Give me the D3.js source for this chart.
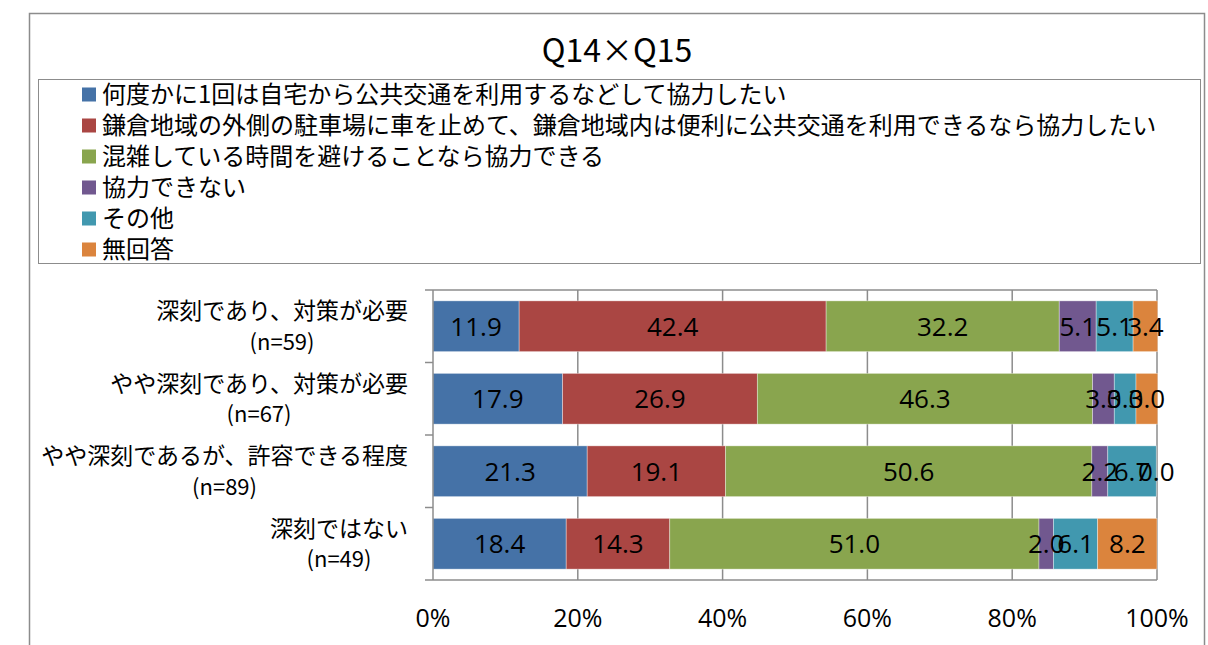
<!DOCTYPE html>
<html>
<head>
<meta charset="utf-8">
<script src="https://cdn.jsdelivr.net/npm/d3@7"></script>
<style>
  body { margin: 0; background: #fff; }
  text { fill: #000; }
</style>
</head>
<body>
<div id="chart"></div>
<script>
// data
var categories = ["深刻であり、対策が必要", "やや深刻であり、対策が必要", "やや深刻であるが、許容できる程度", "深刻ではない"];
var sampleSizes = ["(n=59)", "(n=67)", "(n=89)", "(n=49)"];
var seriesNames = [
  "何度かに1回は自宅から公共交通を利用するなどして協力したい",
  "鎌倉地域の外側の駐車場に車を止めて、鎌倉地域内は便利に公共交通を利用できるなら協力したい",
  "混雑している時間を避けることなら協力できる",
  "協力できない",
  "その他",
  "無回答"
];
var seriesValues = [
  [11.9, 17.9, 21.3, 18.4],
  [42.4, 26.9, 19.1, 14.3],
  [32.2, 46.3, 50.6, 51.0],
  [5.1, 3.0, 2.2, 2.0],
  [5.1, 3.0, 6.7, 6.1],
  [3.4, 3.0, 0.0, 8.2]
];
var tickValues = [0, 20, 40, 60, 80, 100];
var colors = ["#4572A7", "#AA4643", "#89A54E", "#71588F", "#4198AF", "#DB843D"];

var svgWidth = 1208;
var svgHeight = 645;
var jpFont = "'Noto Sans CJK JP', 'Noto Sans', sans-serif";
var numFont = "'Open Sans', 'Liberation Sans', sans-serif";

var plot = { left: 433, right: 1157, top: 290, bottom: 580 };

var svg = d3.select("#chart")
  .append("svg")
  .attr("width", svgWidth)
  .attr("height", svgHeight);

// outer chart border
svg.append("rect")
  .attr("x", 29.5).attr("y", 13.5)
  .attr("width", 1175).attr("height", 700)
  .attr("fill", "#fff")
  .attr("stroke", "#8c8c8c")
  .attr("stroke-width", 1.5);

// title
svg.append("text")
  .attr("x", 617).attr("y", 51)
  .attr("dy", "0.35em")
  .attr("text-anchor", "middle")
  .style("font-family", jpFont)
  .style("font-size", "32px")
  .text("Q14×Q15");

// legend
var legend = svg.append("g");
legend.append("rect")
  .attr("x", 38.5).attr("y", 79.5)
  .attr("width", 1162).attr("height", 184)
  .attr("fill", "#fff")
  .attr("stroke", "#8c8c8c")
  .attr("stroke-width", 1);

var legendItems = legend.selectAll("g.item")
  .data(seriesNames)
  .enter()
  .append("g")
  .attr("class", "item")
  .attr("transform", (d, i) => `translate(82, ${94.5 + i * 31})`);

legendItems.append("rect")
  .attr("x", 0).attr("y", -7)
  .attr("width", 14).attr("height", 14)
  .attr("fill", (d, i) => colors[i]);

legendItems.append("text")
  .attr("x", 20)
  .attr("dy", "0.35em")
  .style("font-family", jpFont)
  .style("font-size", "24px")
  .text(d => d);

// scales
var x = d3.scaleLinear()
  .domain([0, 100])
  .range([plot.left, plot.right]);

var y = d3.scaleBand()
  .domain(categories)
  .range([plot.top, plot.bottom])
  .paddingInner(0.3)
  .paddingOuter(0.15);

// gridlines
svg.append("g")
  .selectAll("line")
  .data(tickValues.slice(1))
  .enter()
  .append("line")
  .attr("x1", d => x(d)).attr("x2", d => x(d))
  .attr("y1", plot.top).attr("y2", plot.bottom)
  .attr("stroke", "#8c8c8c")
  .attr("stroke-width", 1.5);

// top border of plot area
svg.append("line")
  .attr("x1", plot.left).attr("x2", plot.right)
  .attr("y1", plot.top).attr("y2", plot.top)
  .attr("stroke", "#8c8c8c")
  .attr("stroke-width", 1.5);

// stacked bars
var stackData = categories.map(function(c, ci) {
  var row = { cat: c };
  seriesNames.forEach(function(s, si) { row[si] = seriesValues[si][ci]; });
  return row;
});
var stacked = d3.stack().keys(d3.range(seriesNames.length))(stackData);

var layers = svg.append("g")
  .selectAll("g")
  .data(stacked)
  .enter()
  .append("g")
  .attr("fill", (d, i) => colors[i]);

layers.selectAll("rect")
  .data(d => d)
  .enter()
  .append("rect")
  .attr("x", d => x(d[0]))
  .attr("y", d => y(d.data.cat))
  .attr("width", d => x(d[1]) - x(d[0]))
  .attr("height", y.bandwidth())
  .attr("stroke", "rgba(255,255,255,0.45)")
  .attr("stroke-width", 0.8);

// value labels
var labelGroups = svg.append("g")
  .selectAll("g")
  .data(stacked)
  .enter()
  .append("g");

labelGroups.selectAll("text")
  .data(d => d.map(v => ({ v: v, key: d.key })))
  .enter()
  .append("text")
  .attr("x", d => (x(d.v[0]) + x(d.v[1])) / 2)
  .attr("y", d => y(d.v.data.cat) + y.bandwidth() / 2)
  .attr("dy", "0.36em")
  .attr("text-anchor", "middle")
  .style("font-family", numFont)
  .style("font-size", "26px")
  .text(d => seriesValues[d.key][categories.indexOf(d.v.data.cat)].toFixed(1));

// left axis: line + ticks at band boundaries
var yAxis = svg.append("g").attr("stroke", "#8c8c8c").attr("stroke-width", 1.5);
yAxis.append("line")
  .attr("x1", plot.left).attr("x2", plot.left)
  .attr("y1", plot.top).attr("y2", plot.bottom);
var boundaries = categories.map(c => y(c) - y.step() * 0.15).concat([plot.bottom]);
yAxis.selectAll("line.tick")
  .data(boundaries)
  .enter()
  .append("line")
  .attr("class", "tick")
  .attr("x1", plot.left - 8).attr("x2", plot.left)
  .attr("y1", d => d).attr("y2", d => d);

// bottom axis line
svg.append("line")
  .attr("x1", plot.left).attr("x2", plot.right)
  .attr("y1", plot.bottom).attr("y2", plot.bottom)
  .attr("stroke", "#8c8c8c")
  .attr("stroke-width", 1.5);

// category labels (two lines, centred on each other, right aligned as a block)
var catLabels = svg.append("g")
  .selectAll("g")
  .data(categories)
  .enter()
  .append("g");

catLabels.each(function(c, i) {
  var g = d3.select(this);
  var cy = y(c) + y.bandwidth() / 2;
  var t1 = g.append("text")
    .attr("y", cy - 15)
    .attr("dy", "0.35em")
    .attr("text-anchor", "middle")
    .style("font-family", jpFont)
    .style("font-size", "23px")
    .text(c);
  var t2 = g.append("text")
    .attr("y", cy + 16)
    .attr("dy", "0.35em")
    .attr("text-anchor", "middle")
    .style("font-family", jpFont)
    .style("font-size", "22px")
    .text(sampleSizes[i]);
  var w = Math.max(t1.node().getComputedTextLength(), t2.node().getComputedTextLength());
  var cx = 408 - w / 2;
  t1.attr("x", cx);
  t2.attr("x", cx);
});

// bottom tick labels
svg.append("g")
  .selectAll("text")
  .data(tickValues)
  .enter()
  .append("text")
  .attr("x", d => x(d))
  .attr("y", 618)
  .attr("dy", "0.35em")
  .attr("text-anchor", "middle")
  .style("font-family", numFont)
  .style("font-size", "25px")
  .text(d => d + "%");
</script>
</body>
</html>
